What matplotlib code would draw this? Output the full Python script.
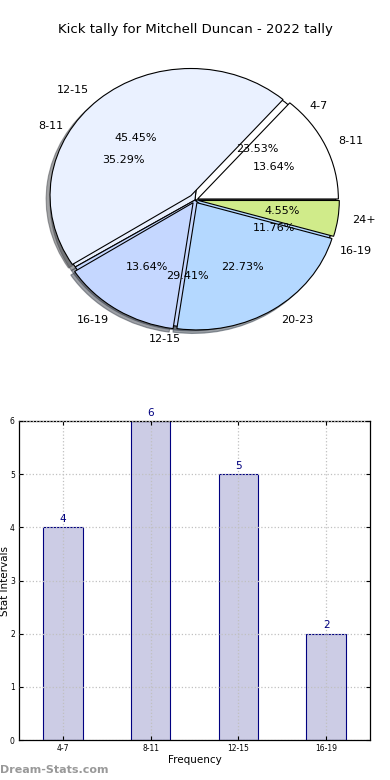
import matplotlib.pyplot as plt

# pie data (two tallies drawn on the same axes)
labels_a = ['8-11', '12-15', '16-19', '20-23', '24+']
values_a = [3, 10, 3, 5, 1]
labels_b = ['4-7', '8-11', '12-15', '16-19']
values_b = [4, 6, 5, 2]

# bar data
bar_cats = ['4-7', '8-11', '12-15', '16-19']
bar_vals = [4, 6, 5, 2]

colors_a = ['#ffffff', '#eaf1ff', '#c5d7ff', '#b4d8ff', '#d0eb8a']
colors_b = ['#ffffff', '#eaf1ff', '#c5d7ff', '#b4d8ff']

fig = plt.figure(figsize=(3.9, 7.8), dpi=100)

ax1 = fig.add_axes([0.0487, 0.5397, 0.9026, 0.4077])
wp = {'edgecolor': 'black', 'linewidth': 0.8}
ax1.pie(values_b, labels=labels_b, colors=colors_b, autopct='%.2f%%',
        shadow=True, wedgeprops=wp, textprops={'fontsize': 8})
ax1.pie(values_a, labels=labels_a, colors=colors_a, autopct='%.2f%%',
        explode=[0.02, 0.045, 0.025, 0.025, 0.025], shadow=True,
        wedgeprops=wp, textprops={'fontsize': 8})
ax1.set_aspect('auto')
ax1.set_xlim(-1.25, 1.25)
ax1.set_ylim(-1.25, 1.25)
fig.text(0.5, 1 - 30 / 780, 'Kick tally for Mitchell Duncan - 2022 tally',
         ha='center', va='center', fontsize=9.5)

ax2 = fig.add_axes([19 / 390, 40 / 780, 351 / 390, 319 / 780])
x = range(len(bar_cats))
ax2.bar(x, bar_vals, width=0.45, color='#cccce5',
        edgecolor='navy', linewidth=0.8, zorder=2)
for i, v in zip(x, bar_vals):
    ax2.text(i, v + 0.06, str(v), ha='center', va='bottom', color='navy',
             fontsize=7.5)
ax2.set_xlim(-0.5, 3.5)
ax2.set_ylim(0, 6)
ax2.set_xticks(list(x))
ax2.set_xticklabels(bar_cats)
ax2.set_yticks(range(7))
ax2.tick_params(labelsize=5.5, direction='in', top=True, right=True,
                length=3, pad=3)
ax2.grid(True, linestyle=':', color='#c0c0c0', linewidth=0.9, zorder=0)
ax2.set_axisbelow(False)
ax2.set_xlabel('Frequency', fontsize=7.5, labelpad=1)
ax2.set_ylabel('Stat Intervals', fontsize=7.5, labelpad=0)
for s in ax2.spines.values():
    s.set_linewidth(0.9)

fig.text(0.0, 1 - 770 / 780, 'Dream-Stats.com', color='#999999',
         fontsize=8, fontweight='bold', va='center', ha='left')

fig.savefig('out.png', dpi=100)
